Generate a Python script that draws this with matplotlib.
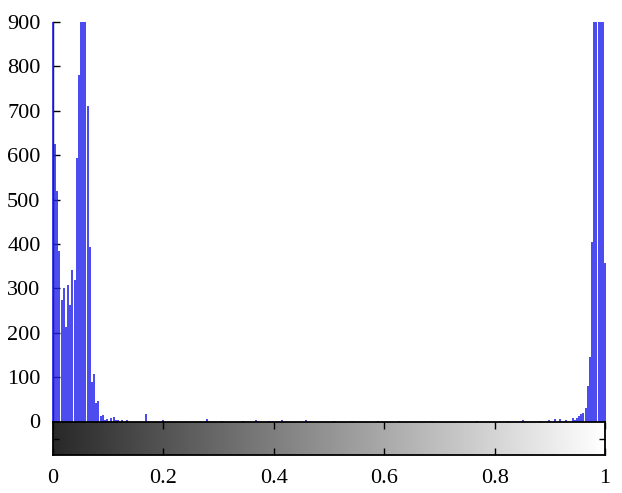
import numpy as np
import matplotlib
matplotlib.use("Agg")
import matplotlib.pyplot as plt

# Histogram counts (256 bins, intensity 0..1)
left_counts = [1500, 625, 520, 385, 273, 300, 213, 307, 262, 342, 318, 594, 781,
               1300, 1600, 1200, 710, 392, 88, 107, 42, 47, 13, 14,
               3, 5, 2, 8, 10, 4, 3, 0, 4, 0, 3]
mid_bins = [43, 51, 71, 78, 88, 94, 100, 106, 117, 130, 138, 150, 160, 175,
            196, 210, 217, 225, 229, 232, 234]
mid_counts = [16, 3, 6, 2, 2, 3, 2, 4, 3, 2, 2, 2, 1, 2,
              2, 2, 3, 2, 4, 5, 6]
right_counts = [3, 0, 0, 9, 4, 8, 12, 16, 20, 30, 79, 146, 404,
                1400, 2000, 2500, 2200, 1600, 356]   # bins 237..255
yticks = [0, 100, 200, 300, 400, 500, 600, 700, 800, 900]
xticks = [0, 0.2, 0.4, 0.6, 0.8, 1]
xticklabels = ["0", "0.2", "0.4", "0.6", "0.8", "1"]

counts = np.zeros(256)
counts[:len(left_counts)] = left_counts
counts[np.array(mid_bins)] = mid_counts
counts[256 - len(right_counts):] = right_counts
centers = np.arange(256) / 255.0

plt.rcParams['font.family'] = ['Liberation Serif', 'DejaVu Serif']

fig = plt.figure(figsize=(6.22, 4.93), dpi=100)
W, H = 622, 493
x0, x1 = 53, 605
ytop, ybot = 22, 421.5
ax = fig.add_axes([x0 / W, 1 - ybot / H, (x1 - x0) / W, (ybot - ytop) / H])
ax.set_xlim(0, 1)
ax.set_ylim(0, 900)
ax.vlines(centers, 0, np.minimum(counts, 900), color='#2020ec',
          linewidth=1.15, zorder=3, clip_on=False)
for s in ['top', 'right', 'bottom']:
    ax.spines[s].set_visible(False)
ax.spines['left'].set_linewidth(1.0)
ax.set_xticks([])
ax.set_yticks(yticks)
ax.set_yticklabels([str(v) for v in yticks])
ax.tick_params(axis='y', direction='in', length=5, width=1.0, pad=9,
               labelsize=16)

cb_top, cb_bot = 422, 455
cax = fig.add_axes([x0 / W, 1 - cb_bot / H, (x1 - x0) / W, (cb_bot - cb_top) / H])
grad = np.linspace(0.16, 1.0, 256)[None, :]
cax.imshow(grad, cmap='gray', vmin=0, vmax=1, aspect='auto',
           extent=[0, 1, 0, 1], interpolation='bilinear')
cax.set_xlim(0, 1)
cax.set_ylim(0, 1)
for s in cax.spines.values():
    s.set_linewidth(1.3)
cax.set_xticks(xticks)
cax.set_xticklabels(xticklabels)
cax.set_yticks([0.5])
cax.set_yticklabels([])
cax.tick_params(axis='x', direction='in', length=5, width=1.0, top=True,
                bottom=True, pad=10, labelsize=16)
cax.tick_params(axis='y', direction='in', length=4, width=1.0, left=True,
                right=True)

fig.savefig("out.png", dpi=100)
